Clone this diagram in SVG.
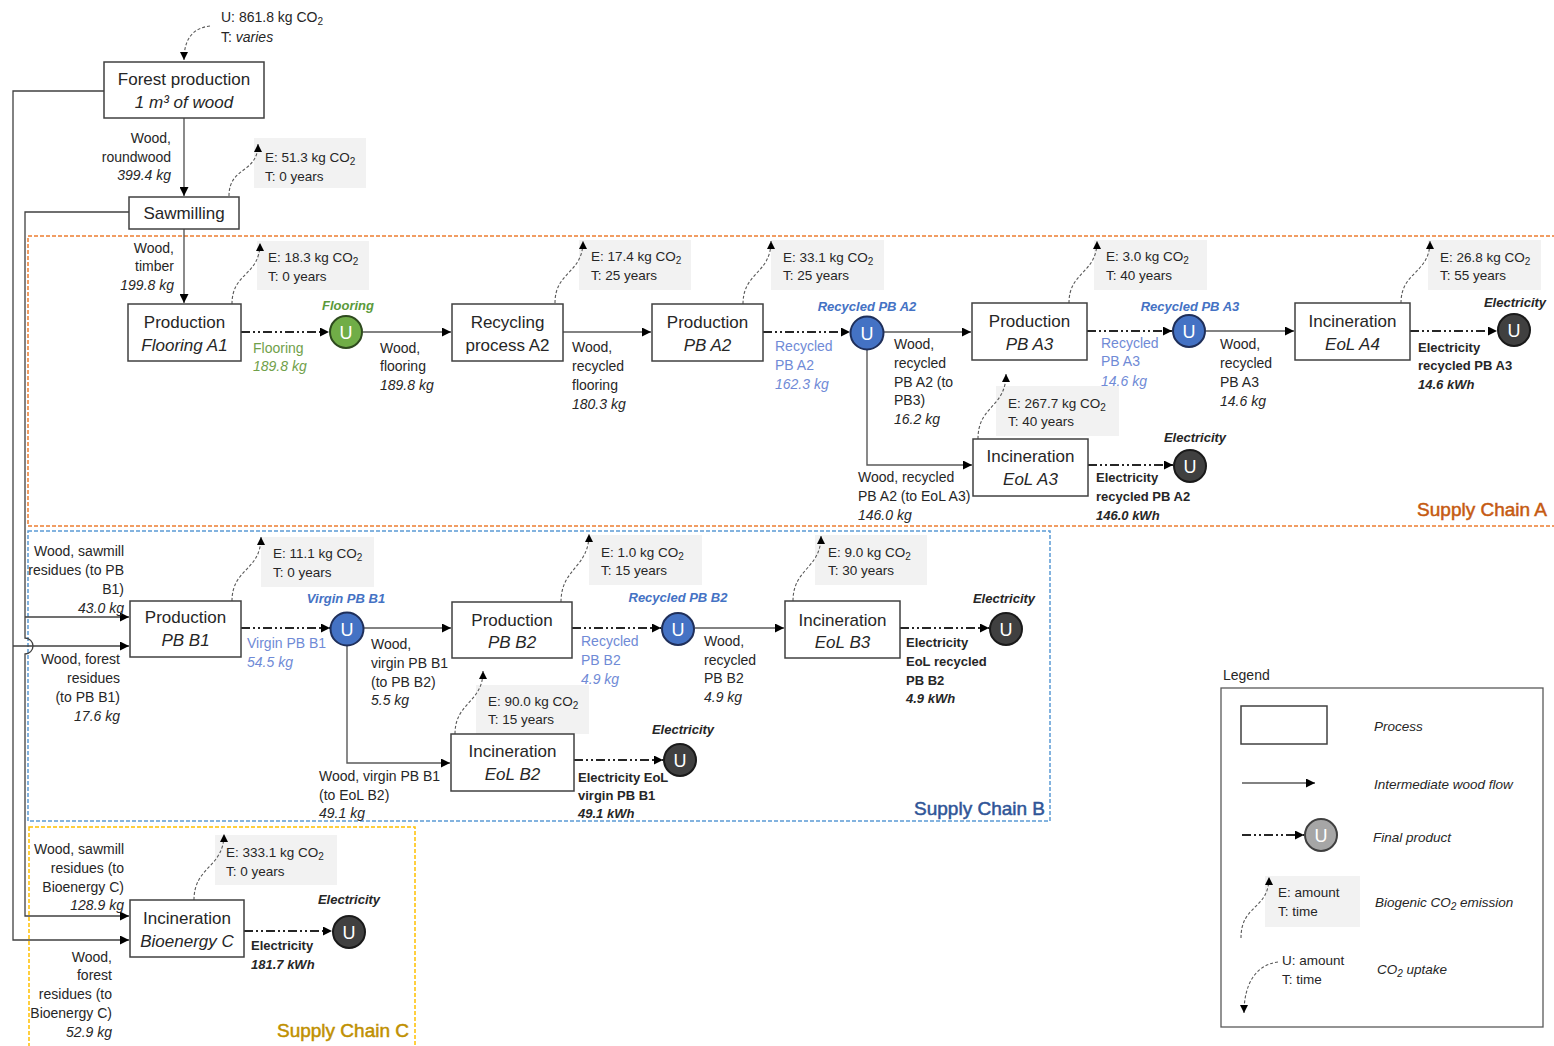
<svg xmlns="http://www.w3.org/2000/svg" width="1554" height="1046" viewBox="0 0 1554 1046">
<style>
text{font-family:"Liberation Sans",Arial,sans-serif;fill:#262626}
.box{fill:#fff;stroke:#404040;stroke-width:1.5}
.bt{font-size:17px;text-anchor:middle}
.l{font-size:14px}
.e{font-size:13.5px}
.end{text-anchor:end}
.i{font-style:italic}
.bi{font-size:13px;font-weight:bold;font-style:italic;text-anchor:middle}
.b{font-size:13px;font-weight:bold}
.grey{fill:#f2f2f2}
.flow{stroke:#595959;stroke-width:1.4;fill:none}
.side{stroke:#404040;stroke-width:1.3;fill:none}
.prod{stroke:#262626;stroke-width:2;fill:none;stroke-dasharray:9 3 2 3 2 3}
.emis{stroke:#595959;stroke-width:1.1;fill:none;stroke-dasharray:3 2}
.u{font-size:18px;fill:#fff;text-anchor:middle}
.lb{fill:#6f8ad6}
.bl{fill:#4472c4}
.gr{fill:#70a04a}
.sc{font-size:19px;text-anchor:end;stroke-width:0.5}
</style>
<defs>
<marker id="ah" viewBox="0 0 10 10" refX="10" refY="5" markerWidth="10" markerHeight="9" markerUnits="userSpaceOnUse" orient="auto"><path d="M0,0 L10,5 L0,10 z" fill="#000"/></marker>
<marker id="as" viewBox="0 0 10 10" refX="10" refY="5" markerWidth="9" markerHeight="8" markerUnits="userSpaceOnUse" orient="auto"><path d="M0,0 L10,5 L0,10 z" fill="#000"/></marker>
</defs>
<rect width="1554" height="1046" fill="#fff"/>

<!-- supply chain frames -->
<g id="frames">
<rect x="28" y="236" width="1540" height="290" fill="none" stroke="#ed7d31" stroke-width="1.5" stroke-dasharray="4 2"/>
<rect x="28" y="531" width="1022" height="290" fill="none" stroke="#5b9bd5" stroke-width="1.5" stroke-dasharray="4 2"/>
<rect x="29" y="827" width="386" height="240" fill="none" stroke="#ffc000" stroke-width="1.5" stroke-dasharray="4 2"/>
<text class="sc" x="1547" y="516" style="fill:#c55a11;stroke:#c55a11">Supply Chain A</text>
<text class="sc" x="1045" y="815" style="fill:#2f5597;stroke:#2f5597">Supply Chain B</text>
<text class="sc" x="409" y="1037" style="fill:#bf9000;stroke:#bf9000">Supply Chain C</text>
</g>

<!-- emission / uptake annotation boxes -->
<g id="annotations">
<rect class="grey" x="254" y="138" width="112" height="50"/>
<text class="e" x="265" y="162">E: 51.3 kg CO<tspan font-size="10" dy="3">2</tspan></text>
<text class="e" x="265" y="181">T: 0 years</text>
<rect class="grey" x="257" y="241" width="112" height="49"/>
<text class="e" x="268" y="262">E: 18.3 kg CO<tspan font-size="10" dy="3">2</tspan></text>
<text class="e" x="268" y="281">T: 0 years</text>
<rect class="grey" x="579" y="240" width="112" height="50"/>
<text class="e" x="591" y="261">E: 17.4 kg CO<tspan font-size="10" dy="3">2</tspan></text>
<text class="e" x="591" y="280">T: 25 years</text>
<rect class="grey" x="771" y="240" width="113" height="50"/>
<text class="e" x="783" y="262">E: 33.1 kg CO<tspan font-size="10" dy="3">2</tspan></text>
<text class="e" x="783" y="280">T: 25 years</text>
<rect class="grey" x="1094" y="240" width="113" height="50"/>
<text class="e" x="1106" y="261">E: 3.0 kg CO<tspan font-size="10" dy="3">2</tspan></text>
<text class="e" x="1106" y="280">T: 40 years</text>
<rect class="grey" x="1428" y="240" width="113" height="50"/>
<text class="e" x="1440" y="262">E: 26.8 kg CO<tspan font-size="10" dy="3">2</tspan></text>
<text class="e" x="1440" y="280">T: 55 years</text>
<rect class="grey" x="996" y="386" width="123" height="50"/>
<text class="e" x="1008" y="408">E: 267.7 kg CO<tspan font-size="10" dy="3">2</tspan></text>
<text class="e" x="1008" y="426">T: 40 years</text>
<rect class="grey" x="261" y="537" width="113" height="50"/>
<text class="e" x="273" y="558">E: 11.1 kg CO<tspan font-size="10" dy="3">2</tspan></text>
<text class="e" x="273" y="577">T: 0 years</text>
<rect class="grey" x="589" y="535" width="113" height="50"/>
<text class="e" x="601" y="557">E: 1.0 kg CO<tspan font-size="10" dy="3">2</tspan></text>
<text class="e" x="601" y="575">T: 15 years</text>
<rect class="grey" x="815" y="535" width="112" height="50"/>
<text class="e" x="828" y="557">E: 9.0 kg CO<tspan font-size="10" dy="3">2</tspan></text>
<text class="e" x="828" y="575">T: 30 years</text>
<rect class="grey" x="476" y="685" width="113" height="49"/>
<text class="e" x="488" y="706">E: 90.0 kg CO<tspan font-size="10" dy="3">2</tspan></text>
<text class="e" x="488" y="724">T: 15 years</text>
<rect class="grey" x="215" y="835" width="122" height="50"/>
<text class="e" x="226" y="857">E: 333.1 kg CO<tspan font-size="10" dy="3">2</tspan></text>
<text class="e" x="226" y="876">T: 0 years</text>
<text class="l" x="221" y="22">U: 861.8 kg CO<tspan font-size="10" dy="3">2</tspan></text>
<text class="l" x="221" y="42">T: <tspan class="i">varies</tspan></text>
</g>

<!-- connectors -->
<g id="connectors">
<path class="side" d="M104,91 H13 V940 H129" marker-end="url(#ah)"/>
<path class="side" d="M13,646 H129" marker-end="url(#ah)"/>
<path class="side" d="M129,212 H25 V638 A8,8 0 0 1 25,654 V916 H129" marker-end="url(#ah)"/>
<path class="side" d="M25,617 H129" marker-end="url(#ah)"/>
<path class="flow" d="M184,118 V196" marker-end="url(#ah)"/>
<path class="flow" d="M184,229 V303" marker-end="url(#ah)"/>
<path class="prod" d="M241,332 H329" marker-end="url(#ah)"/>
<path class="flow" d="M363,332 H451" marker-end="url(#ah)"/>
<path class="flow" d="M563,332 H651" marker-end="url(#ah)"/>
<path class="prod" d="M763,332 H850" marker-end="url(#ah)"/>
<path class="flow" d="M884,332 H971" marker-end="url(#ah)"/>
<path class="flow" d="M867,350 V465 H972" marker-end="url(#ah)"/>
<path class="prod" d="M1087,331 H1172" marker-end="url(#ah)"/>
<path class="flow" d="M1206,331 H1294" marker-end="url(#ah)"/>
<path class="prod" d="M1410,331 H1497" marker-end="url(#ah)"/>
<path class="prod" d="M1088,465 H1173" marker-end="url(#ah)"/>
<path class="prod" d="M241,628 H330" marker-end="url(#ah)"/>
<path class="flow" d="M364,628 H451" marker-end="url(#ah)"/>
<path class="flow" d="M347,646 V763 H450" marker-end="url(#ah)"/>
<path class="prod" d="M572,628 H661" marker-end="url(#ah)"/>
<path class="flow" d="M695,628 H784" marker-end="url(#ah)"/>
<path class="prod" d="M900,628 H989" marker-end="url(#ah)"/>
<path class="prod" d="M574,760 H663" marker-end="url(#ah)"/>
<path class="prod" d="M244,931 H332" marker-end="url(#ah)"/>
<path class="emis" d="M229,196 C229,166 258,174 258,144" marker-end="url(#as)"/>
<path class="emis" d="M232,304 C232,272 260,276 260,243" marker-end="url(#as)"/>
<path class="emis" d="M555,303 C555,271 583,274 583,241" marker-end="url(#as)"/>
<path class="emis" d="M743,304 C743,272 771,274 771,241" marker-end="url(#as)"/>
<path class="emis" d="M1069,303 C1069,271 1097,274 1097,241" marker-end="url(#as)"/>
<path class="emis" d="M1401,303 C1401,271 1430,274 1430,241" marker-end="url(#as)"/>
<path class="emis" d="M978,439 C978,405 1006,408 1006,374" marker-end="url(#as)"/>
<path class="emis" d="M232,601 C232,568 261,571 261,537" marker-end="url(#as)"/>
<path class="emis" d="M561,602 C561,568 589,568 589,534" marker-end="url(#as)"/>
<path class="emis" d="M793,601 C793,568 821,569 821,536" marker-end="url(#as)"/>
<path class="emis" d="M455,734 C455,702 483,703 483,671" marker-end="url(#as)"/>
<path class="emis" d="M194,900 C194,866 224,868 224,834" marker-end="url(#as)"/>
<path class="emis" d="M210,26 C192,28 184,40 184,60" marker-end="url(#as)"/>
</g>

<!-- flow labels -->
<g id="labels">
<text class="l end" x="171" y="143">Wood,</text>
<text class="l end" x="171" y="162">roundwood</text>
<text class="l end i" x="171" y="180">399.4 kg</text>
<text class="l end" x="174" y="253">Wood,</text>
<text class="l end" x="174" y="271">timber</text>
<text class="l end i" x="174" y="290">199.8 kg</text>
<text class="l gr" x="253" y="353">Flooring</text>
<text class="l gr i" x="253" y="371">189.8 kg</text>
<text class="l" x="380" y="353">Wood,</text>
<text class="l" x="380" y="371">flooring</text>
<text class="l i" x="380" y="390">189.8 kg</text>
<text class="l" x="572" y="352">Wood,</text>
<text class="l" x="572" y="371">recycled</text>
<text class="l" x="572" y="390">flooring</text>
<text class="l i" x="572" y="409">180.3 kg</text>
<text class="l lb" x="775" y="351">Recycled</text>
<text class="l lb" x="775" y="370">PB A2</text>
<text class="l lb i" x="775" y="389">162.3 kg</text>
<text class="l" x="894" y="349">Wood,</text>
<text class="l" x="894" y="368">recycled</text>
<text class="l" x="894" y="387">PB A2 (to</text>
<text class="l" x="894" y="405">PB3)</text>
<text class="l i" x="894" y="424">16.2 kg</text>
<text class="l" x="858" y="482">Wood, recycled</text>
<text class="l" x="858" y="501">PB A2 (to EoL A3)</text>
<text class="l i" x="858" y="520">146.0 kg</text>
<text class="l lb" x="1101" y="348">Recycled</text>
<text class="l lb" x="1101" y="366">PB A3</text>
<text class="l lb i" x="1101" y="386">14.6 kg</text>
<text class="l" x="1220" y="349">Wood,</text>
<text class="l" x="1220" y="368">recycled</text>
<text class="l" x="1220" y="387">PB A3</text>
<text class="l i" x="1220" y="406">14.6 kg</text>
<text class="b" x="1418" y="352">Electricity</text>
<text class="b" x="1418" y="370">recycled PB A3</text>
<text class="b i" x="1418" y="389">14.6 kWh</text>
<text class="b" x="1096" y="482">Electricity</text>
<text class="b" x="1096" y="501">recycled PB A2</text>
<text class="b i" x="1096" y="520">146.0 kWh</text>

<text class="l end" x="124" y="556">Wood, sawmill</text>
<text class="l end" x="124" y="575">residues (to PB</text>
<text class="l end" x="124" y="594">B1)</text>
<text class="l end i" x="124" y="613">43.0 kg</text>
<text class="l end" x="120" y="664">Wood, forest</text>
<text class="l end" x="120" y="683">residues</text>
<text class="l end" x="120" y="702">(to PB B1)</text>
<text class="l end i" x="120" y="721">17.6 kg</text>
<text class="l lb" x="247" y="648">Virgin PB B1</text>
<text class="l lb i" x="247" y="667">54.5 kg</text>
<text class="l" x="371" y="649">Wood,</text>
<text class="l" x="371" y="668">virgin PB B1</text>
<text class="l" x="371" y="687">(to PB B2)</text>
<text class="l i" x="371" y="705">5.5 kg</text>
<text class="l" x="319" y="781">Wood, virgin PB B1</text>
<text class="l" x="319" y="800">(to EoL B2)</text>
<text class="l i" x="319" y="818">49.1 kg</text>
<text class="l lb" x="581" y="646">Recycled</text>
<text class="l lb" x="581" y="665">PB B2</text>
<text class="l lb i" x="581" y="684">4.9 kg</text>
<text class="l" x="704" y="646">Wood,</text>
<text class="l" x="704" y="665">recycled</text>
<text class="l" x="704" y="683">PB B2</text>
<text class="l i" x="704" y="702">4.9 kg</text>
<text class="b" x="906" y="647">Electricity</text>
<text class="b" x="906" y="666">EoL recycled</text>
<text class="b" x="906" y="685">PB B2</text>
<text class="b i" x="906" y="703">4.9 kWh</text>
<text class="b" x="578" y="782">Electricity EoL</text>
<text class="b" x="578" y="800">virgin PB B1</text>
<text class="b i" x="578" y="818">49.1 kWh</text>

<text class="l end" x="124" y="854">Wood, sawmill</text>
<text class="l end" x="124" y="873">residues (to</text>
<text class="l end" x="124" y="892">Bioenergy C)</text>
<text class="l end i" x="124" y="910">128.9 kg</text>
<text class="l end" x="112" y="962">Wood,</text>
<text class="l end" x="112" y="980">forest</text>
<text class="l end" x="112" y="999">residues (to</text>
<text class="l end" x="112" y="1018">Bioenergy C)</text>
<text class="l end i" x="112" y="1037">52.9 kg</text>
<text class="b" x="251" y="950">Electricity</text>
<text class="b i" x="251" y="969">181.7 kWh</text>
</g>

<!-- process nodes -->
<g id="forest-production"><rect class="box" x="104" y="62" width="160" height="56"/><text class="bt" x="184" y="85">Forest production</text><text class="bt i" x="184" y="108">1 m³ of wood</text></g>
<g id="sawmilling"><rect class="box" x="129" y="197" width="110" height="32"/><text class="bt" x="184" y="219">Sawmilling</text></g>
<g id="production-flooring-a1"><rect class="box" x="128" y="304" width="113" height="57"/><text class="bt" x="184.5" y="328">Production</text><text class="bt i" x="184.5" y="351">Flooring A1</text></g>
<g id="recycling-process-a2"><rect class="box" x="452" y="304" width="111" height="57"/><text class="bt" x="507.5" y="328">Recycling</text><text class="bt" x="507.5" y="351">process A2</text></g>
<g id="production-pb-a2"><rect class="box" x="652" y="304" width="111" height="57"/><text class="bt" x="707.5" y="328">Production</text><text class="bt i" x="707.5" y="351">PB A2</text></g>
<g id="production-pb-a3"><rect class="box" x="972" y="303" width="115" height="57"/><text class="bt" x="1029.5" y="327">Production</text><text class="bt i" x="1029.5" y="350">PB A3</text></g>
<g id="incineration-eol-a4"><rect class="box" x="1295" y="303" width="115" height="57"/><text class="bt" x="1352.5" y="327">Incineration</text><text class="bt i" x="1352.5" y="350">EoL A4</text></g>
<g id="incineration-eol-a3"><rect class="box" x="973" y="439" width="115" height="57"/><text class="bt" x="1030.5" y="462">Incineration</text><text class="bt i" x="1030.5" y="485">EoL A3</text></g>
<g id="production-pb-b1"><rect class="box" x="130" y="601" width="111" height="56"/><text class="bt" x="185.5" y="623">Production</text><text class="bt i" x="185.5" y="646">PB B1</text></g>
<g id="production-pb-b2"><rect class="box" x="452" y="602" width="120" height="56"/><text class="bt" x="512" y="626">Production</text><text class="bt i" x="512" y="648">PB B2</text></g>
<g id="incineration-eol-b3"><rect class="box" x="785" y="601" width="115" height="57"/><text class="bt" x="842.5" y="626">Incineration</text><text class="bt i" x="842.5" y="648">EoL B3</text></g>
<g id="incineration-eol-b2"><rect class="box" x="451" y="734" width="123" height="57"/><text class="bt" x="512.5" y="757">Incineration</text><text class="bt i" x="512.5" y="780">EoL B2</text></g>
<g id="incineration-bioenergy-c"><rect class="box" x="130" y="900" width="114" height="57"/><text class="bt" x="187" y="924">Incineration</text><text class="bt i" x="187" y="947">Bioenergy C</text></g>

<!-- final product nodes -->
<g id="u-flooring"><circle cx="346" cy="332" r="16" fill="#70ad47" stroke="#2e4a1e" stroke-width="2"/><text class="u" x="346" y="339">U</text><text class="bi" x="348" y="310" style="fill:#5a9a3a">Flooring</text></g>
<g id="u-recycled-pb-a2"><circle cx="867" cy="333" r="16.5" fill="#4472c4" stroke="#1f2f5a" stroke-width="2"/><text class="u" x="867" y="340">U</text><text class="bi bl" x="867" y="311">Recycled PB A2</text></g>
<g id="u-recycled-pb-a3"><circle cx="1189" cy="331" r="16" fill="#4472c4" stroke="#1f2f5a" stroke-width="2"/><text class="u" x="1189" y="338">U</text><text class="bi bl" x="1190" y="311">Recycled PB A3</text></g>
<g id="u-electricity-a4"><circle cx="1514" cy="330" r="16" fill="#404040" stroke="#1a1a1a" stroke-width="2"/><text class="u" x="1514" y="337">U</text><text class="bi" x="1515" y="307">Electricity</text></g>
<g id="u-electricity-a3"><circle cx="1190" cy="466" r="16" fill="#404040" stroke="#1a1a1a" stroke-width="2"/><text class="u" x="1190" y="473">U</text><text class="bi" x="1195" y="442">Electricity</text></g>
<g id="u-virgin-pb-b1"><circle cx="347" cy="629" r="16.5" fill="#4472c4" stroke="#1f2f5a" stroke-width="2"/><text class="u" x="347" y="636">U</text><text class="bi bl" x="346" y="603">Virgin PB B1</text></g>
<g id="u-recycled-pb-b2"><circle cx="678" cy="629" r="16" fill="#4472c4" stroke="#1f2f5a" stroke-width="2"/><text class="u" x="678" y="636">U</text><text class="bi bl" x="678" y="602">Recycled PB B2</text></g>
<g id="u-electricity-b3"><circle cx="1006" cy="629" r="16" fill="#404040" stroke="#1a1a1a" stroke-width="2"/><text class="u" x="1006" y="636">U</text><text class="bi" x="1004" y="603">Electricity</text></g>
<g id="u-electricity-b2"><circle cx="680" cy="760" r="16" fill="#404040" stroke="#1a1a1a" stroke-width="2"/><text class="u" x="680" y="767">U</text><text class="bi" x="683" y="734">Electricity</text></g>
<g id="u-electricity-c"><circle cx="349" cy="932" r="16" fill="#404040" stroke="#1a1a1a" stroke-width="2"/><text class="u" x="349" y="939">U</text><text class="bi" x="349" y="904">Electricity</text></g>

<!-- legend -->
<g id="legend">
<text class="l" x="1223" y="680">Legend</text>
<rect x="1221" y="688" width="322" height="339" fill="none" stroke="#595959" stroke-width="1.3"/>
<rect class="box" x="1241" y="706" width="86" height="38"/>
<text class="e i" x="1374" y="731">Process</text>
<path class="flow" d="M1242,783 H1315" marker-end="url(#ah)"/>
<text class="e i" x="1374" y="789">Intermediate wood flow</text>
<path class="prod" d="M1242,835 H1304" marker-end="url(#ah)"/>
<circle cx="1321" cy="835" r="16" fill="#a6a6a6" stroke="#404040" stroke-width="2"/>
<text class="u" x="1321" y="842">U</text>
<text class="e i" x="1373" y="842">Final product</text>
<rect class="grey" x="1265" y="876" width="95" height="51"/>
<text class="e" x="1278" y="897">E: amount</text>
<text class="e" x="1278" y="916">T: time</text>
<path class="emis" d="M1241,938 C1241,904 1269,910 1269,877" marker-end="url(#as)"/>
<text class="e i" x="1375" y="907">Biogenic CO<tspan font-size="10" dy="3">2</tspan><tspan dy="-3"> emission</tspan></text>
<text class="e" x="1282" y="965">U: amount</text>
<text class="e" x="1282" y="984">T: time</text>
<path class="emis" d="M1278,962 C1255,965 1244,985 1244,1013" marker-end="url(#as)"/>
<text class="e i" x="1377" y="974">CO<tspan font-size="10" dy="3">2</tspan><tspan dy="-3"> uptake</tspan></text>
</g>
</svg>
